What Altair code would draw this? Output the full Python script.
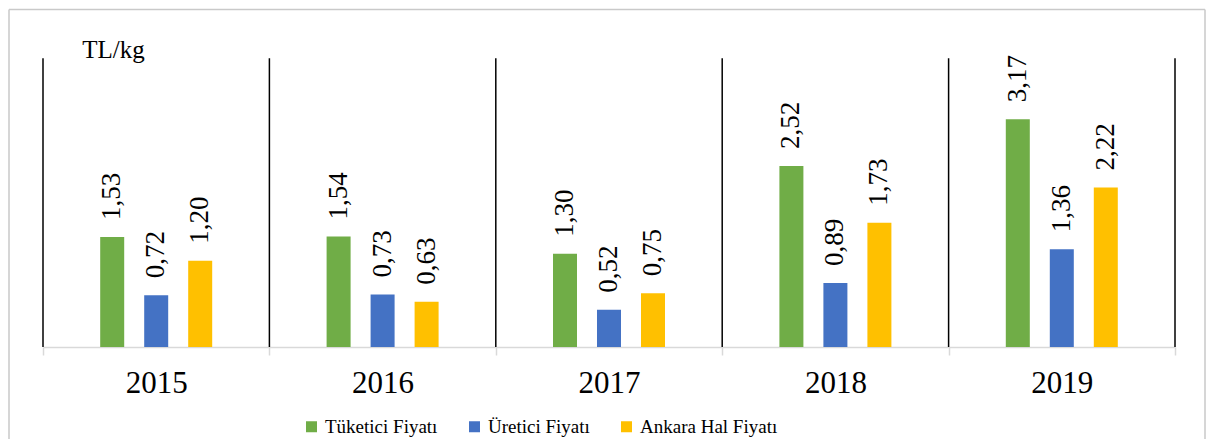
import altair as alt
import pandas as pd

years = ["2015", "2016", "2017", "2018", "2019"]
series = ["Tüketici Fiyatı", "Üretici Fiyatı", "Ankara Hal Fiyatı"]
tuketici = [1.53, 1.54, 1.30, 2.52, 3.17]
uretici = [0.72, 0.73, 0.52, 0.89, 1.36]
ankara = [1.20, 0.63, 0.75, 1.73, 2.22]
colors = ["#70AD47", "#4472C4", "#FFC000"]
y_max = 4.4
line_top = 4.02
unit_label = "TL/kg"

rows = []
for s, vals in zip(series, [tuketici, uretici, ankara]):
    for yr, v in zip(years, vals):
        rows.append({"year": yr, "series": s, "value": v,
                     "label": f"{v:.2f}".replace(".", ",")})
df = pd.DataFrame(rows)
rules_df = pd.DataFrame({"year": years, "top": [line_top] * len(years), "bottom": [0.0] * len(years)})
one = pd.DataFrame({"a": [0]})

FONT = "Liberation Serif"

x_enc = alt.X("year:N", sort=years,
              scale=alt.Scale(paddingInner=0, paddingOuter=0),
              axis=alt.Axis(title=None, labelFont=FONT, labelFontSize=31, labelColor="black",
                            labelAngle=0, domainColor="#d9d9d9", domainWidth=1.5,
                            tickColor="#d9d9d9", tickWidth=1.5, tickSize=8, tickBand="extent",
                            labelPadding=13, grid=False))
y_scale = alt.Scale(domain=[0, y_max], nice=False)

bars = alt.Chart(df).mark_bar().encode(
    x=x_enc,
    xOffset=alt.XOffset("series:N", sort=series,
                        scale=alt.Scale(domain=series, range=[57.2, 169.2],
                                        paddingInner=0.4545, paddingOuter=0)),
    y=alt.Y("value:Q", scale=y_scale,
            axis=alt.Axis(title=unit_label, domain=False, ticks=False, labels=False, grid=False,
                          titleAngle=0, titleX=70, titleY=26, titleAlign="center",
                          titleBaseline="alphabetic", titleFont=FONT, titleFontSize=25,
                          titleFontWeight="normal", titleColor="black", minExtent=0)),
    color=alt.Color("series:N", scale=alt.Scale(domain=series, range=colors),
                    legend=alt.Legend(title=None, orient="none", direction="horizontal",
                                      legendX=259, legendY=386, symbolType="square",
                                      symbolSize=121, symbolStrokeWidth=0, labelFont=FONT,
                                      labelFontSize=19, labelColor="black", labelOffset=4,
                                      columnPadding=27, padding=0)),
)

labels = alt.Chart(df).mark_text(angle=270, align="left", baseline="middle", dx=17,
                                 font=FONT, fontSize=27, color="black").encode(
    x=alt.X("year:N", sort=years),
    xOffset=alt.XOffset("series:N", sort=series),
    y=alt.Y("value:Q"),
    text="label:N",
)

vlines = alt.Chart(rules_df).mark_rule(color="black", strokeWidth=1.5).encode(
    x=alt.X("year:N", sort=years, bandPosition=0),
    y=alt.Y("top:Q"),
    y2="bottom:Q",
)
vline_end = alt.Chart(rules_df).transform_filter(
    alt.datum.year == years[-1]
).mark_rule(color="black", strokeWidth=1.5).encode(
    x=alt.X("year:N", sort=years, bandPosition=1),
    y=alt.Y("top:Q"),
    y2="bottom:Q",
)

bc = "#c9c9c9"
b_top = alt.Chart(one).mark_rule(color=bc, strokeWidth=1.5).encode(
    x=alt.value(-34), x2=alt.value(1162), y=alt.value(-21.5))
b_left = alt.Chart(one).mark_rule(color=bc, strokeWidth=1.5).encode(
    x=alt.value(-34), y=alt.value(-21.5), y2=alt.value(408))
b_right = alt.Chart(one).mark_rule(color=bc, strokeWidth=1.5).encode(
    x=alt.value(1162), y=alt.value(-21.5), y2=alt.value(408))

chart = alt.layer(bars, labels, vlines, vline_end, b_top, b_left, b_right).properties(
    width=1132, height=316, padding=0
).configure_view(stroke=None)

chart.save("out.html", embed_options={"renderer": "svg", "actions": False})
